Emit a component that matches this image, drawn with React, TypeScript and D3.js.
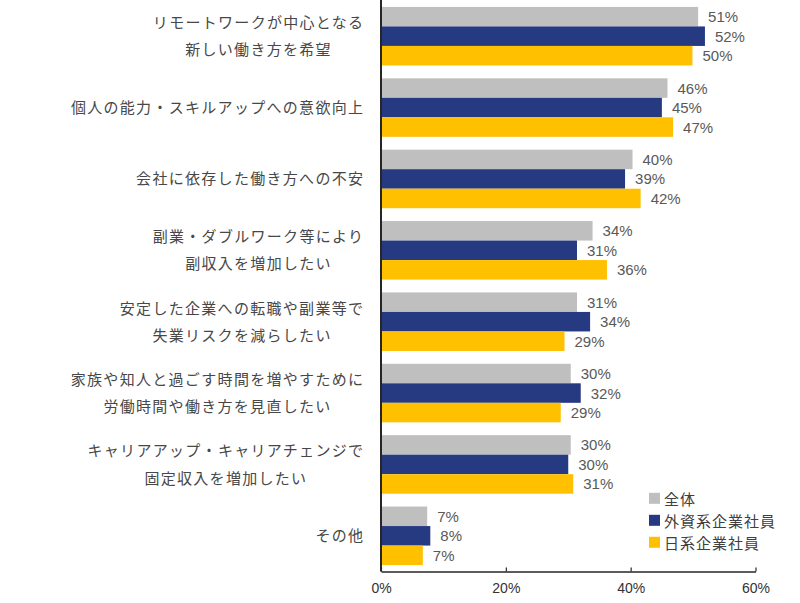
import * as d3 from 'd3';
import React, { useEffect, useRef } from 'react';

const categories: string[][] = [
    ['リモートワークが中心となる', '新しい働き方を希望'],
    ['個人の能力・スキルアップへの意欲向上'],
    ['会社に依存した働き方への不安'],
    ['副業・ダブルワーク等により', '副収入を増加したい'],
    ['安定した企業への転職や副業等で', '失業リスクを減らしたい'],
    ['家族や知人と過ごす時間を増やすために', '労働時間や働き方を見直したい'],
    ['キャリアアップ・キャリアチェンジで', '固定収入を増加したい'],
    ['その他'],
];

const seriesNames = ['全体', '外資系企業社員', '日系企業社員'];
const seriesColors = ['#BFBFBF', '#253A80', '#FFC000'];

// bar lengths (percent)
const allValues = [50.8, 45.9, 40.3, 33.9, 31.4, 30.4, 30.4, 7.4];
const foreignValues = [51.9, 45.0, 39.1, 31.4, 33.5, 32.0, 30.0, 7.9];
const japaneseValues = [49.9, 46.8, 41.6, 36.2, 29.4, 28.8, 30.8, 6.7];

// printed labels
const allLabels = [51, 46, 40, 34, 31, 30, 30, 7];
const foreignLabels = [52, 45, 39, 31, 34, 32, 30, 8];
const japaneseLabels = [50, 47, 42, 36, 29, 29, 31, 7];

const xTicks = [0, 20, 40, 60];

const width = 800;
const height = 603;
const left = 381;
const right = 755.5;
const top = 0.5;
const bottom = 571.5;

const jpFont = '"Noto Sans CJK JP", "Noto Sans", sans-serif';
const latinFont = '"Liberation Sans", Arial, sans-serif';

const App = () => {
    const svgRef = useRef<SVGSVGElement | null>(null);

    useEffect(() => {
        const svg = d3.select(svgRef.current);
        svg.selectAll('*').remove();

        const x = d3.scaleLinear().domain([0, 60]).range([left, right]);
        const y = d3
            .scaleBand<number>()
            .domain(d3.range(categories.length))
            .range([top, bottom])
            .paddingInner(0.18)
            .paddingOuter(0.09);
        const sub = d3
            .scaleBand<number>()
            .domain([0, 1, 2])
            .range([0, y.bandwidth()]);

        const values = [allValues, foreignValues, japaneseValues];
        const labels = [allLabels, foreignLabels, japaneseLabels];

        const groups = svg
            .append('g')
            .selectAll('g')
            .data(categories.map((_, i) => i))
            .join('g')
            .attr('transform', (i) => `translate(0,${y(i)})`);

        groups
            .selectAll('rect')
            .data((i) => values.map((v, s) => ({ s, v: v[i], l: labels[s][i] })))
            .join('rect')
            .attr('x', left)
            .attr('y', (d) => sub(d.s)!)
            .attr('width', (d) => x(d.v) - left)
            .attr('height', sub.bandwidth())
            .attr('fill', (d) => seriesColors[d.s]);

        groups
            .selectAll('text')
            .data((i) => values.map((v, s) => ({ s, v: v[i], l: labels[s][i] })))
            .join('text')
            .attr('x', (d) => x(d.v) + 10)
            .attr('y', (d) => sub(d.s)! + sub.bandwidth() / 2)
            .attr('dominant-baseline', 'central')
            .attr('font-family', latinFont)
            .attr('font-size', 15)
            .attr('fill', '#595959')
            .text((d) => `${d.l}%`);

        // category labels: multi-line blocks right aligned, lines centred
        const ls = 1.3;
        const labelRight = 363;
        categories.forEach((lines, i) => {
            const cy = y(i)! + y.bandwidth() / 2 - 1;
            const g = svg.append('g');
            const texts = lines.map((line, k) =>
                g
                    .append('text')
                    .attr('y', cy + (k - (lines.length - 1) / 2) * 27.2)
                    .attr('dominant-baseline', 'central')
                    .attr('font-family', jpFont)
                    .attr('font-size', 15)
                    .attr('letter-spacing', ls)
                    .attr('fill', '#474747')
                    .text(line),
            );
            const widths = texts.map((t) => (t.node() as SVGTextElement).getComputedTextLength());
            const maxW = d3.max(widths) ?? 0;
            const mid = labelRight + ls - maxW / 2;
            texts.forEach((t, k) => t.attr('x', mid - widths[k] / 2));
        });

        // x axis
        const xAxis = svg
            .append('g')
            .attr('transform', `translate(0,${bottom})`)
            .call(
                d3
                    .axisBottom(x)
                    .tickValues(xTicks)
                    .tickSizeInner(-4)
                    .tickSizeOuter(0)
                    .tickPadding(12)
                    .tickFormat((d) => `${d}%`),
            );
        xAxis.select('.domain').attr('stroke', '#262626').attr('stroke-width', 1.5);
        xAxis.selectAll('.tick line').attr('stroke', '#262626').attr('stroke-width', 1.2);
        xAxis
            .selectAll('.tick text')
            .attr('font-family', latinFont)
            .attr('font-size', 14)
            .attr('fill', '#333333');

        // y axis line
        svg.append('line')
            .attr('x1', left)
            .attr('x2', left)
            .attr('y1', 0)
            .attr('y2', bottom)
            .attr('stroke', '#262626')
            .attr('stroke-width', 2);

        // legend
        const legend = svg
            .append('g')
            .selectAll('g')
            .data(seriesNames)
            .join('g')
            .attr('transform', (_, i) => `translate(649,${498.3 + i * 22})`);
        legend
            .append('rect')
            .attr('x', 0)
            .attr('y', -5.5)
            .attr('width', 11)
            .attr('height', 11)
            .attr('fill', (_, i) => seriesColors[i]);
        legend
            .append('text')
            .attr('x', 15)
            .attr('dominant-baseline', 'central')
            .attr('font-family', jpFont)
            .attr('font-size', 15)
            .attr('letter-spacing', 1)
            .attr('fill', '#404040')
            .text((d) => d);
    }, []);

    return (
        <svg
            ref={svgRef}
            width={width}
            height={height}
            viewBox={`0 0 ${width} ${height}`}
            style={{ position: 'absolute', left: 0, top: 0, background: '#fff' }}
        />
    );
};

export default App;
